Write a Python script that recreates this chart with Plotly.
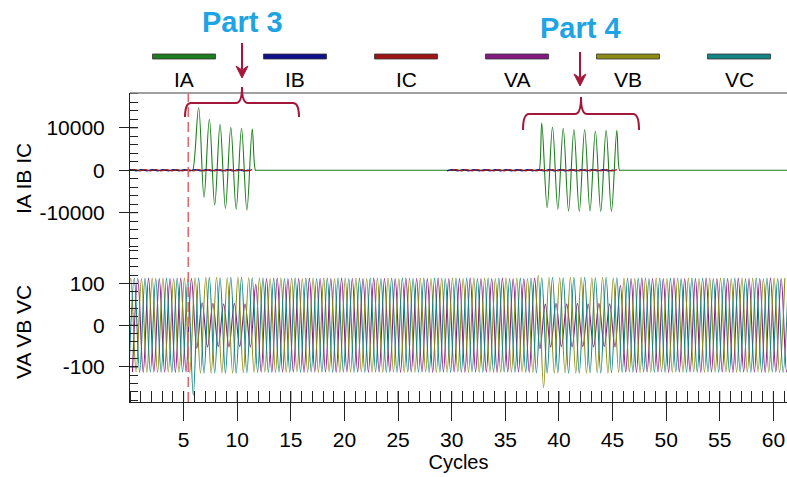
import plotly.graph_objects as go

# ---------------- data ----------------
SERIES = ["IA", "IB", "IC", "VA", "VB", "VC"]
SERIES_COLORS = ["#1e7d1e", "#10108c", "#a01414", "#821a82", "#8c8c14", "#148484"]

X_TICKS = [5, 10, 15, 20, 25, 30, 35, 40, 45, 50, 55, 60]
I_TICKS = [-10000, 0, 10000]
I_TICK_TEXT = ["-10000", "0", "10000"]
V_TICKS = [-100, 0, 100]
V_TICK_TEXT = ["-100", "0", "100"]

TRIGGER_CYCLE = 5.43  # dashed trigger marker

# Phase-A current turning points (cycles, A): fault, trip, reclose onto fault, trip
IA_T = [0.0, 5.75, 5.85,
        6.4, 6.9, 7.4, 7.9, 8.4, 8.9, 9.4, 9.9, 10.4, 10.9, 11.4,
        11.7, 11.8, 37.95, 38.05, 38.15,
        38.4, 38.9, 39.4, 39.9, 40.4, 40.9, 41.4, 41.9, 42.4, 42.9,
        43.4, 43.9, 44.4, 44.9, 45.4,
        45.65, 45.75, 61.5]
IA_V = [0, 0, 0,
        14800, -6400, 12000, -8200, 10800, -9000, 10100, -9200, 9900, -9400, 9700,
        0, 0, 0, 0, 0,
        11100, -8800, 10200, -9200, 9900, -9600, 9600, -9700, 9600, -9600,
        9250, -9700, 9400, -9700, 9400,
        0, 0, 0]

CYCLES = list(range(62))

# Load current crest of phases B and C per cycle (A); None while the breaker is open
IB_AMP = [150, 160, 150, 140, 150, 160, 150, 140, 150, 160, 150, 140,
          None, None, None, None, None, None, None, None, None, None,
          None, None, None, None, None, None, None, None,
          150, 160, 150, 140, 150, 160, 150, 140, 150, 160, 150, 140,
          150, 160, 150, 140,
          None, None, None, None, None, None, None, None, None, None,
          None, None, None, None, None, None]
IC_AMP = [140, 150, 160, 150, 140, 150, 160, 150, 140, 150, 160, 150,
          None, None, None, None, None, None, None, None, None, None,
          None, None, None, None, None, None, None, None,
          140, 150, 160, 150, 140, 150, 160, 150, 140, 150, 160, 150,
          140, 150, 160, 150,
          None, None, None, None, None, None, None, None, None, None,
          None, None, None, None, None, None]

# Phase voltages per cycle: crest and trough (V)
VA_POS = [112, 113, 112, 112, 113, 112,
          54, 52, 51, 52, 51, 98,
          112, 113, 112, 112, 113, 112, 112, 113, 112, 112, 113, 112, 112,
          113, 112, 112, 113, 112, 112, 113, 112, 112, 113, 112, 112, 113,
          50, 52, 51, 52, 51, 52, 51, 96,
          112, 113, 112, 112, 113, 112, 112, 113, 112, 112, 113, 112, 112,
          113, 112, 112]
VA_NEG = [-112, -113, -112, -112, -113, -112,
          -55, -52, -51, -52, -51, -52,
          -112, -113, -112, -112, -113, -112, -112, -113, -112, -112, -113,
          -112, -112, -113, -112, -112, -113, -112, -112, -113, -112, -112,
          -113, -112, -112, -113,
          -56, -52, -51, -52, -51, -52, -51, -52,
          -112, -113, -112, -112, -113, -112, -112, -113, -112, -112, -113,
          -112, -112, -113, -112, -112]
VB_POS = [113, 112, 113, 113, 112, 113, 114, 115, 115, 114, 115, 114,
          113, 112, 113, 113, 112, 113, 113, 112, 113, 113, 112, 113, 113,
          112, 113, 113, 112, 113, 113, 112, 113, 113, 112, 113, 113, 112,
          120, 115, 114, 115, 115, 114, 115, 114,
          113, 112, 113, 113, 112, 113, 113, 112, 113, 113, 112, 113, 113,
          112, 113, 113]
VB_NEG = [-113, -112, -113, -113, -112, -113, -114, -115, -115, -114, -115,
          -114, -113, -112, -113, -113, -112, -113, -113, -112, -113, -113,
          -112, -113, -113, -112, -113, -113, -112, -113, -113, -112, -113,
          -113, -112, -113, -113, -112, -113,
          -150, -115, -114, -115, -115, -114, -115,
          -113, -112, -113, -113, -112, -113, -113, -112, -113, -113, -112,
          -113, -113, -112, -113, -113]
VC_POS = [113, 113, 112, 113, 113, 112, 114, 115, 114, 115, 115, 114,
          113, 113, 112, 113, 113, 112, 113, 113, 112, 113, 113, 112, 113,
          113, 112, 113, 113, 112, 113, 113, 112, 113, 113, 112, 113, 113,
          114, 115, 114, 115, 115, 114, 115, 114,
          113, 113, 112, 113, 113, 112, 113, 113, 112, 113, 113, 112, 113,
          113, 112, 113]
VC_NEG = [-113, -113, -112, -113, -113, -112,
          -168, -115, -114, -115, -115, -114,
          -113, -113, -112, -113, -113, -112, -113, -113, -112, -113, -113,
          -112, -113, -113, -112, -113, -113, -112, -113, -113, -112, -113,
          -113, -112, -113, -113,
          -114, -115, -114, -115, -115, -114, -115, -114,
          -113, -113, -112, -113, -113, -112, -113, -113, -112, -113, -113,
          -112, -113, -113, -112, -113]

# ---------------- helpers ----------------
FONT = "Liberation Sans, Arial, sans-serif"
W, H = 787, 477
L, R, T, B = 130, 0, 93, 75
PW, PH = W - L - R, H - T - B
AXIS_INK = "#222222"


def px(x):
    return (x - L) / PW


def py(y):
    return (H - B - y) / PH


def wave(cycles, pos, neg, crest):
    """Alternate trough / crest turning points within each cycle."""
    t, v = [], []
    for k, p, n in zip(cycles, pos, neg):
        t += [k + crest - 0.5, k + crest]
        v += [n, p]
    return t, v


def neg_of(vals):
    return [None if a is None else -a for a in vals]


fig = go.Figure()
col = dict(zip(SERIES, SERIES_COLORS))

# currents (upper panel)
fig.add_trace(go.Scatter(x=IA_T, y=IA_V, mode="lines", name="IA",
                         line=dict(color=col["IA"], width=1.1, shape="spline", smoothing=1.0),
                         xaxis="x", yaxis="y", showlegend=False))
for name, amp, crest in (("IB", IB_AMP, 0.07), ("IC", IC_AMP, 0.40)):
    t, v = wave(CYCLES, amp, neg_of(amp), crest)
    fig.add_trace(go.Scatter(x=t, y=v, mode="lines", name=name, connectgaps=False,
                             line=dict(color=col[name], width=1.1, shape="spline"),
                             xaxis="x", yaxis="y", showlegend=False))

# voltages (lower panel)
for name, pos, neg, crest in (("VA", VA_POS, VA_NEG, 0.73),
                              ("VB", VB_POS, VB_NEG, 0.07),
                              ("VC", VC_POS, VC_NEG, 0.40)):
    t, v = wave(CYCLES, pos, neg, crest)
    fig.add_trace(go.Scatter(x=t, y=v, mode="lines", name=name,
                             line=dict(color=col[name], width=1.1, shape="spline"),
                             xaxis="x", yaxis="y2", showlegend=False))

tick_font = dict(family=FONT, size=21, color="#000000")
axis_common = dict(showline=True, linecolor=AXIS_INK, linewidth=1, showgrid=False,
                   zeroline=False, tickcolor=AXIS_INK, tickfont=tick_font)

fig.update_layout(
    width=W, height=H,
    margin=dict(l=L, r=R, t=T, b=B, pad=0),
    paper_bgcolor="white", plot_bgcolor="white",
    font=dict(family=FONT, color="#000000"),
    xaxis=dict(range=[0, 61.27], anchor="y2", tickmode="array", tickvals=X_TICKS,
               ticks="outside", ticklen=18, tickwidth=1, ticklabelstandoff=1,
               minor=dict(ticks="inside", ticklen=11, tickmode="linear", tick0=0, dtick=1,
                          tickcolor=AXIS_INK, showgrid=False),
               title=dict(text="Cycles", font=dict(family=FONT, size=20), standoff=2),
               **axis_common),
    yaxis=dict(domain=[py(247.5), 1], range=[-18200, 18200], tickmode="array",
               tickvals=I_TICKS, ticktext=I_TICK_TEXT, ticks="outside", ticklen=10,
               ticklabelstandoff=10,
               minor=dict(ticks="inside", ticklen=8, tickmode="linear", tick0=0, dtick=2000,
                          tickcolor=AXIS_INK, showgrid=False),
               **axis_common),
    yaxis2=dict(domain=[0, py(248.5)], range=[-184, 184], tickmode="array",
                tickvals=V_TICKS, ticktext=V_TICK_TEXT, ticks="outside", ticklen=10,
                ticklabelstandoff=10,
                minor=dict(ticks="inside", ticklen=8, tickmode="linear", tick0=0, dtick=20,
                           tickcolor=AXIS_INK, showgrid=False),
                **axis_common),
)

shapes = []
annotations = []

# inner half of the major ticks (they cross the axis lines)
for v in X_TICKS:
    shapes.append(dict(type="line", xref="x", yref="paper", x0=v, x1=v, y0=0, y1=py(391),
                       line=dict(color=AXIS_INK, width=1)))
for yref, vals in (("y", I_TICKS), ("y2", V_TICKS)):
    for v in vals:
        shapes.append(dict(type="line", xref="paper", yref=yref, x0=0, x1=px(138),
                           y0=v, y1=v, line=dict(color=AXIS_INK, width=1)))

# frame line across the top of the current panel
shapes.append(dict(type="line", xref="paper", yref="paper", x0=0, x1=1.02, y0=1, y1=1,
                   line=dict(color="#808080", width=1.5), layer="above"))

# trigger marker
shapes.append(dict(type="line", xref="x", yref="paper", x0=TRIGGER_CYCLE, x1=TRIGGER_CYCLE,
                   y0=0, y1=1, line=dict(color="#e06868", width=1.5, dash="10px,5px"),
                   layer="above"))

# legend row: colour bars above the names
legend_centers = [184, 295, 406, 517, 628, 739]
for name, cx in zip(SERIES, legend_centers):
    shapes.append(dict(type="rect", xref="paper", yref="paper",
                       x0=px(cx - 31.5), x1=px(cx + 31.5), y0=py(59), y1=py(54),
                       fillcolor=col[name], line=dict(color="#333333", width=0.8)))
    annotations.append(dict(text=name, xref="paper", yref="paper", x=px(cx), y=py(80),
                            showarrow=False, xanchor="center", yanchor="middle",
                            font=dict(family=FONT, size=21, color="#000000")))

# part callouts: label, arrow and brace
MARK = "#a3173a"


def brace(x0, x1, ybar, yend, ytip):
    xm = (x0 + x1) / 2
    r = 6
    pts = [f"M {px(x0)},{py(yend)}",
           f"Q {px(x0)},{py(ybar)} {px(x0 + r)},{py(ybar)}",
           f"L {px(xm - r)},{py(ybar)}",
           f"Q {px(xm)},{py(ybar)} {px(xm)},{py(ytip)}",
           f"Q {px(xm)},{py(ybar)} {px(xm + r)},{py(ybar)}",
           f"L {px(x1 - r)},{py(ybar)}",
           f"Q {px(x1)},{py(ybar)} {px(x1)},{py(yend)}"]
    return dict(type="path", xref="paper", yref="paper", path=" ".join(pts),
                line=dict(color=MARK, width=2))


def arrow(x, ytop, ytip):
    head = 11
    line = dict(type="line", xref="paper", yref="paper", x0=px(x), x1=px(x),
                y0=py(ytop), y1=py(ytip - head + 2), line=dict(color=MARK, width=2))
    tri = (f"M {px(x - 6)},{py(ytip - head - 1)} L {px(x)},{py(ytip - head + 3)} "
           f"L {px(x + 6)},{py(ytip - head - 1)} L {px(x)},{py(ytip)} Z")
    return [line, dict(type="path", xref="paper", yref="paper", path=tri,
                       fillcolor=MARK, line=dict(color=MARK, width=1))]


for label, lx, ly, ax, atop, atip, b in (
        ("Part 3", 242, 22, 242, 43, 78, (185, 299, 103, 117, 87)),
        ("Part 4", 580, 28, 580, 52, 86, (523, 639, 114, 130, 97))):
    annotations.append(dict(text=f"<b>{label}</b>", xref="paper", yref="paper",
                            x=px(lx), y=py(ly), showarrow=False, xanchor="center",
                            yanchor="middle",
                            font=dict(family=FONT, size=29, color="#1ea3e4")))
    shapes += arrow(ax, atop, atip)
    shapes.append(brace(*b))

# rotated panel titles
for text, cy in (("IA IB IC", 179), ("VA VB VC", 332)):
    annotations.append(dict(text=text, xref="paper", yref="paper", x=px(23), y=py(cy),
                            showarrow=False, textangle=-90, xanchor="center",
                            yanchor="middle",
                            font=dict(family=FONT, size=21, color="#000000")))

fig.update_layout(shapes=shapes, annotations=annotations)
fig.write_html("out.html")
